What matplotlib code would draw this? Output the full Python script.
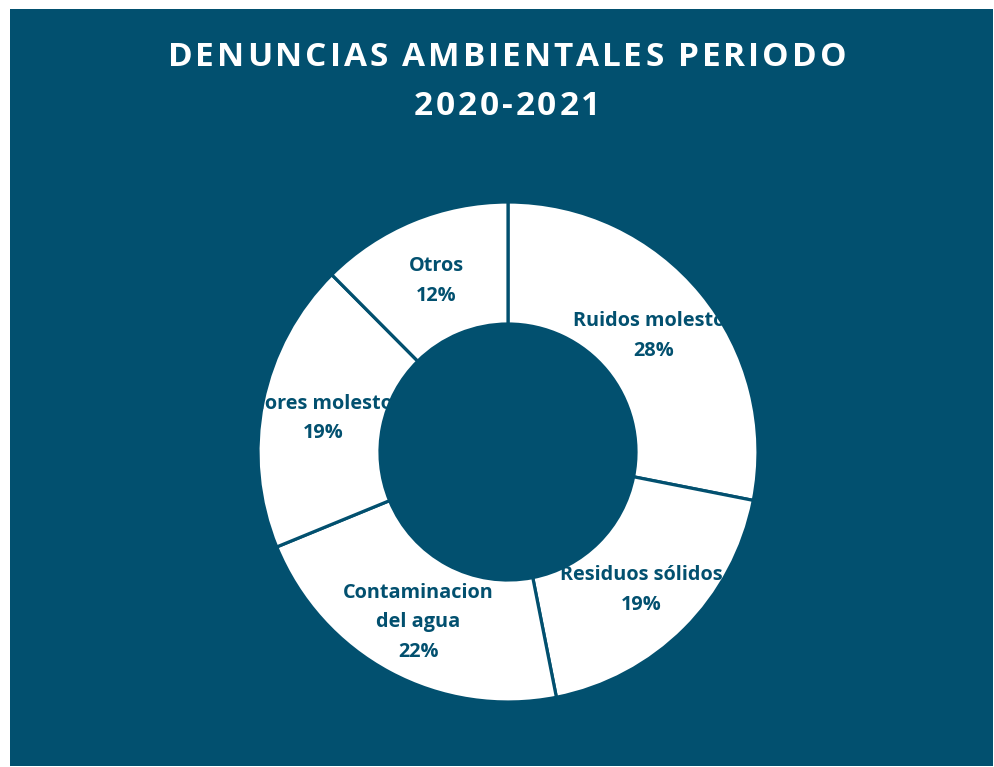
import matplotlib
matplotlib.use("Agg")
import matplotlib.pyplot as plt
import numpy as np
from matplotlib.patches import Rectangle

categories = ["Ruidos molestos", "Residuos sólidos", "Contaminacion\ndel agua", "Olores molestos", "Otros"]
values = [28.1, 18.8, 21.9, 18.75, 12.45]
title_lines = ["DENUNCIAS AMBIENTALES PERIODO", "2020-2021"]

BG = "#02506F"
W, H = 994, 767
fig = plt.figure(figsize=(W / 100, H / 100), dpi=100, facecolor="white")

# dark panel
fig.patches.append(Rectangle((10 / W, 1 / H), 983 / W, 757 / H, transform=fig.transFigure,
                             facecolor=BG, edgecolor="none", zorder=-5))

# donut axes: center (508, 452) px from top, radius 250 px
R = 250
cx, cy = 508, 452
half = 1.1 * R
ax = fig.add_axes([(cx - half) / W, (H - cy - half) / H, 2 * half / W, 2 * half / H])
ax.set_zorder(2)
ax.axis("off")
ax.patch.set_alpha(0)

hole = 0.512
wedges, _ = ax.pie(values, startangle=90, counterclock=False, radius=1.0,
                   colors=["white"] * len(values),
                   wedgeprops=dict(width=1 - hole, edgecolor=BG, linewidth=2.3))
ax.set_xlim(-1.1, 1.1)
ax.set_ylim(-1.1, 1.1)
ax.set_aspect("equal")

total = sum(values)
mid_r = (1 + hole) / 2
for w, cat, v in zip(wedges, categories, values):
    ang = np.deg2rad((w.theta1 + w.theta2) / 2)
    x, y = mid_r * np.cos(ang), mid_r * np.sin(ang) - 4 / R
    ax.text(x, y, f"{cat}\n{round(100 * v / total)}%", ha="center", va="center",
            fontsize=14.3, fontweight="bold", family="Open Sans", color=BG,
            linespacing=1.65, clip_on=False)

# title with letter spacing
renderer = fig.canvas.get_renderer()
spacing_px = 2.9
baselines = [66, 115]
fs = 24
for line, base in zip(title_lines, baselines):
    texts = []
    widths = []
    for ch in line:
        t = fig.text(0, 0, ch if ch != " " else "\u00a0", fontsize=fs, fontweight="bold",
                     family="Open Sans", color="white", ha="left", va="baseline", zorder=3)
        bb = t.get_window_extent(renderer)
        if ch == " ":
            wch = fs * 0.26 * 100 / 72
        else:
            wch = bb.width
        texts.append(t)
        widths.append(wch)
    total_w = sum(widths) + spacing_px * (len(line) - 1)
    x0 = 507 - total_w / 2
    xx = x0
    for t, wch in zip(texts, widths):
        t.set_position((xx / W, (H - base) / H))
        xx += wch + spacing_px

fig.savefig("out.png", dpi=100, facecolor="white")
